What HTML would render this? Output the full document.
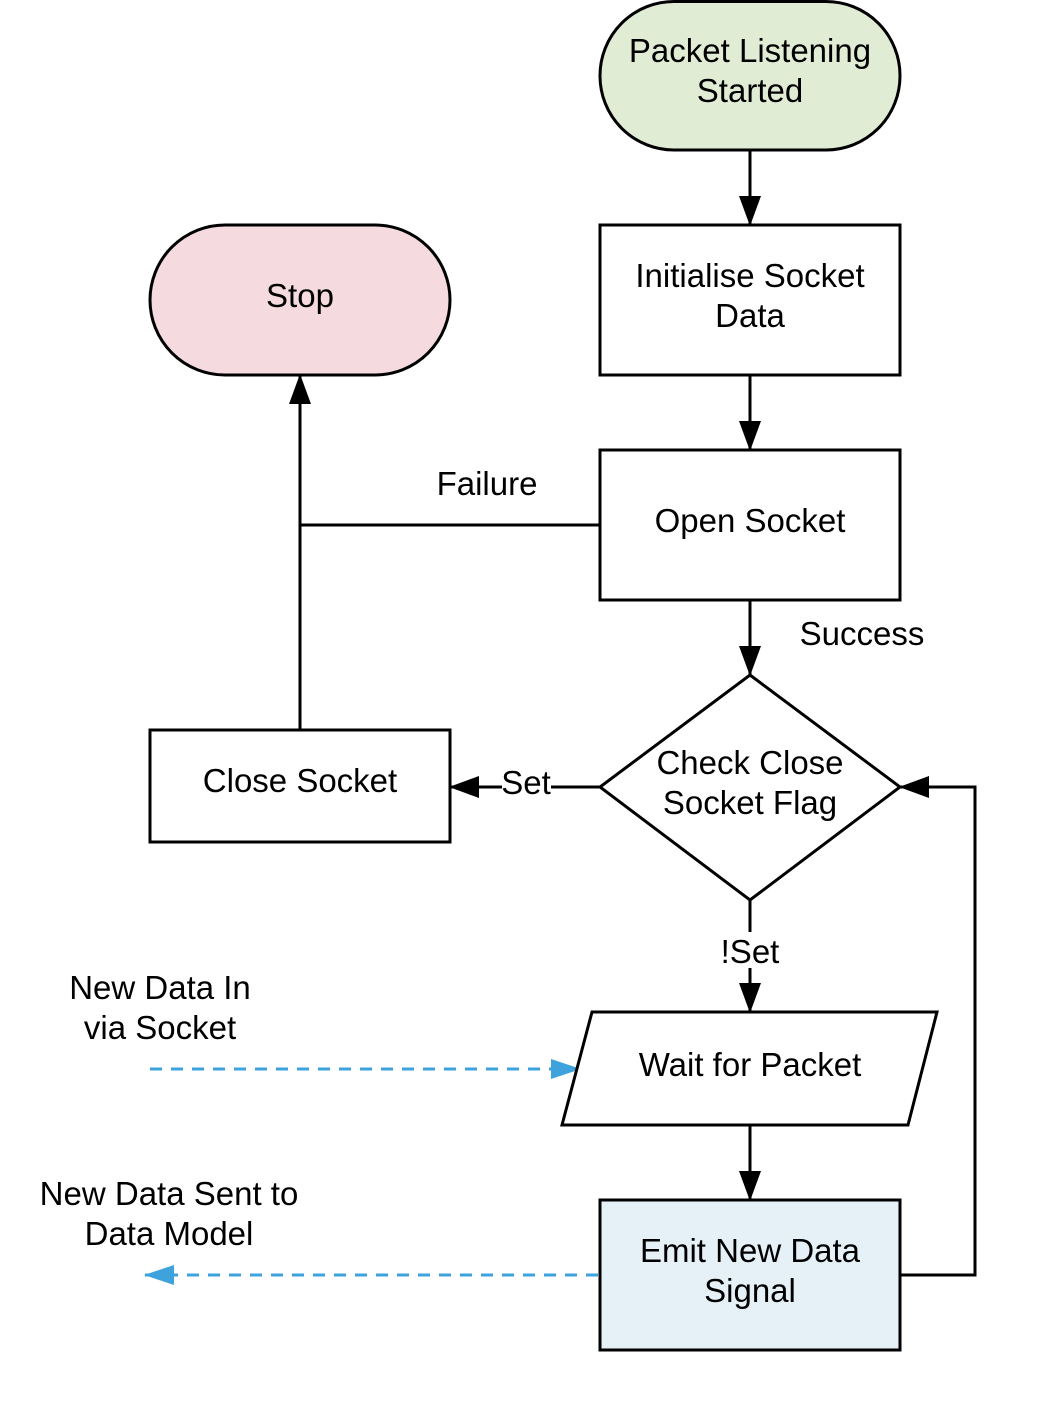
<!DOCTYPE html>
<html><head><meta charset="utf-8"><style>
html,body{margin:0;padding:0;background:#fff;}
svg{display:block;}
</style></head><body>
<svg width="1050" height="1425" viewBox="0 0 1050 1425" xmlns="http://www.w3.org/2000/svg">
<defs>
<marker id="ab" markerWidth="30" markerHeight="30" refX="29" refY="15" orient="auto" markerUnits="userSpaceOnUse" viewBox="0 0 30 30">
<path d="M0,5 L30,15 L0,25 Z" fill="#3ea3dc"/></marker>
<marker id="k" markerWidth="30" markerHeight="30" refX="29" refY="15" orient="auto" markerUnits="userSpaceOnUse" viewBox="0 0 30 30">
<path d="M0,4 L30,15 L0,26 Z" fill="#000"/></marker>
</defs>
<g stroke="#000" stroke-width="3" fill="none">
<line x1="750" y1="150" x2="750" y2="225" marker-end="url(#k)"/>
<line x1="750" y1="375" x2="750" y2="450" marker-end="url(#k)"/>
<line x1="750" y1="600" x2="750" y2="675" marker-end="url(#k)"/>
<line x1="750" y1="900" x2="750" y2="1012" marker-end="url(#k)"/>
<line x1="750" y1="1125" x2="750" y2="1200" marker-end="url(#k)"/>
<line x1="600" y1="525" x2="300" y2="525"/>
<line x1="300" y1="730" x2="300" y2="375" marker-end="url(#k)"/>
<line x1="600" y1="787" x2="450" y2="787" marker-end="url(#k)"/>
<polyline points="900,1275 975,1275 975,787 900,787" marker-end="url(#k)"/>
</g>
<g stroke="#3ea3dc" stroke-width="3" fill="none" stroke-dasharray="12,9">
<line x1="150" y1="1069" x2="580" y2="1069" marker-end="url(#ab)"/>
<line x1="598" y1="1275" x2="145" y2="1275" marker-end="url(#ab)"/>
</g>
<g stroke="#000" stroke-width="3">
<rect x="600" y="1.5" width="300" height="148.5" rx="74" fill="#e1ecd4"/>
<rect x="600" y="225" width="300" height="150" fill="#fff"/>
<rect x="150" y="225" width="300" height="150" rx="75" fill="#f5dadf"/>
<rect x="600" y="450" width="300" height="150" fill="#fff"/>
<polygon points="750,675 900,787 750,900 600,787" fill="#fff"/>
<rect x="150" y="730" width="300" height="112" fill="#fff"/>
<polygon points="592,1012 937,1012 908,1125 562,1125" fill="#fff"/>
<rect x="600" y="1200" width="300" height="150" fill="#e6f0f7"/>
</g>
<rect x="718" y="932" width="64" height="36" fill="#fff"/>
<rect x="502" y="767" width="49" height="36" fill="#fff"/>
<g text-anchor="middle" font-family="Liberation Sans, Arial, sans-serif" font-size="33" fill="#000" style="font-family:'Liberation Sans',Arial,sans-serif;font-size:33px">
<text x="750" y="62">Packet Listening</text>
<text x="750" y="102">Started</text>
<text x="750" y="287">Initialise Socket</text>
<text x="750" y="327">Data</text>
<text x="300" y="307">Stop</text>
<text x="750" y="532">Open Socket</text>
<text x="750" y="774">Check Close</text>
<text x="750" y="814">Socket Flag</text>
<text x="300" y="792">Close Socket</text>
<text x="750" y="1076">Wait for Packet</text>
<text x="750" y="1262">Emit New Data</text>
<text x="750" y="1302">Signal</text>
<text x="487" y="495">Failure</text>
<text x="862" y="645">Success</text>
<text x="526" y="794">Set</text>
<text x="750" y="963">!Set</text>
<text x="160" y="999">New Data In</text>
<text x="160" y="1039">via Socket</text>
<text x="169" y="1205">New Data Sent to</text>
<text x="169" y="1245">Data Model</text>
</g>
</svg>
</body></html>
